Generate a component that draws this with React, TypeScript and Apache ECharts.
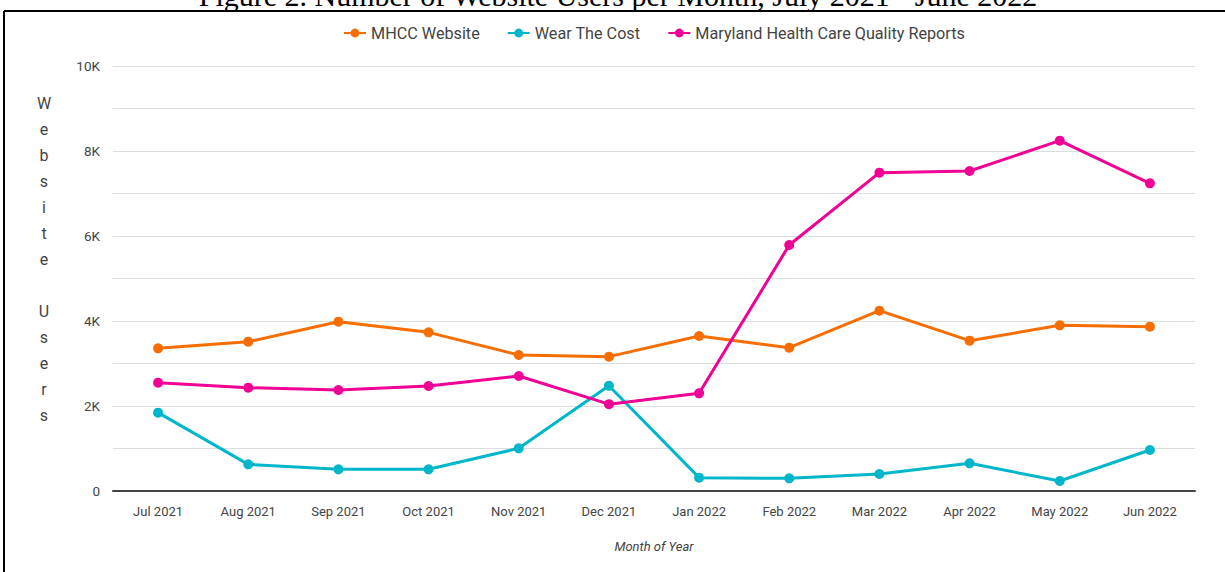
import React, { useEffect, useRef } from "react";
import * as echarts from "echarts";

const months = ["Jul 2021", "Aug 2021", "Sep 2021", "Oct 2021", "Nov 2021", "Dec 2021", "Jan 2022", "Feb 2022", "Mar 2022", "Apr 2022", "May 2022", "Jun 2022"];
const mhcc = [3357, 3513, 3984, 3733, 3200, 3161, 3647, 3372, 4243, 3537, 3898, 3867];
const wearTheCost = [1843, 627, 510, 510, 1004, 2475, 314, 298, 400, 651, 235, 965];
const qualityReports = [2549, 2431, 2376, 2471, 2706, 2043, 2298, 5788, 7490, 7529, 8243, 7239];
const seriesNames = ["MHCC Website", "Wear The Cost", "Maryland Health Care Quality Reports"];
const colors = ["#f66d00", "#00b6cb", "#f10096"];

export default function App() {
  const ref = useRef<HTMLDivElement>(null);
  useEffect(() => {
    if (!ref.current) return;
    const chart = echarts.init(ref.current, null, { renderer: "svg" });
    const font = "Roboto";
    const mk = (name: string, data: number[], color: string) => ({
      name,
      type: "line",
      data,
      symbol: "circle",
      symbolSize: 10,
      lineStyle: { width: 3, color },
      itemStyle: { color },
    });
    chart.setOption({
      animation: false,
      backgroundColor: "#ffffff",
      legend: {
        top: 20,
        left: 338,
        itemWidth: 22,
        itemHeight: 11,
        itemGap: 27,
        textStyle: { fontFamily: font, fontSize: 16.2, color: "#444" },
        data: seriesNames,
      },
      grid: { left: 113, right: 30, top: 66, bottom: 81 },
      xAxis: {
        type: "category",
        data: months,
        boundaryGap: true,
        axisLine: { lineStyle: { color: "#444", width: 2 } },
        axisTick: { show: false },
        axisLabel: { fontFamily: font, fontSize: 13, color: "#444", margin: 14, interval: 0 },
        name: "Month of Year",
        nameLocation: "middle",
        nameGap: 49,
        nameTextStyle: { fontFamily: font, fontSize: 13, fontStyle: "italic", color: "#444" },
      },
      yAxis: {
        type: "value",
        min: 0,
        max: 10000,
        interval: 1000,
        axisLine: { show: false },
        axisTick: { show: false },
        splitLine: { lineStyle: { color: "#dddddd", width: 1 } },
        axisLabel: {
          fontFamily: font,
          fontSize: 13.5,
          color: "#444",
          margin: 13,
          formatter: (v: number) => (v === 0 ? "0" : v % 2000 === 0 ? v / 1000 + "K" : ""),
        },
      },
      graphic: [
        {
          type: "text",
          style: {
            x: 618,
            y: 10,
            text: "Figure 2. Number of Website Users per Month, July 2021 - June 2022",
            font: "30px 'Liberation Serif', serif",
            fill: "#000",
            align: "center",
            verticalAlign: "bottom",
          },
        },
        {
          type: "text",
          style: {
            x: 44,
            y: 90,
            text: "W\ne\nb\ns\ni\nt\ne\n \nU\ns\ne\nr\ns",
            font: "16px Roboto",
            lineHeight: 26,
            fill: "#444",
            align: "center",
            verticalAlign: "top",
          },
        },
        { type: "line", shape: { x1: 4, y1: 11, x2: 1225, y2: 11 }, style: { stroke: "#000", lineWidth: 2 } },
        { type: "line", shape: { x1: 4, y1: 11, x2: 4, y2: 572 }, style: { stroke: "#000", lineWidth: 2 } },
      ],
      series: [
        mk(seriesNames[0], mhcc, colors[0]),
        mk(seriesNames[1], wearTheCost, colors[1]),
        mk(seriesNames[2], qualityReports, colors[2]),
      ],
    });
    return () => chart.dispose();
  }, []);
  return <div ref={ref} style={{ position: "fixed", left: 0, top: 0, width: 1225, height: 572 }} />;
}
